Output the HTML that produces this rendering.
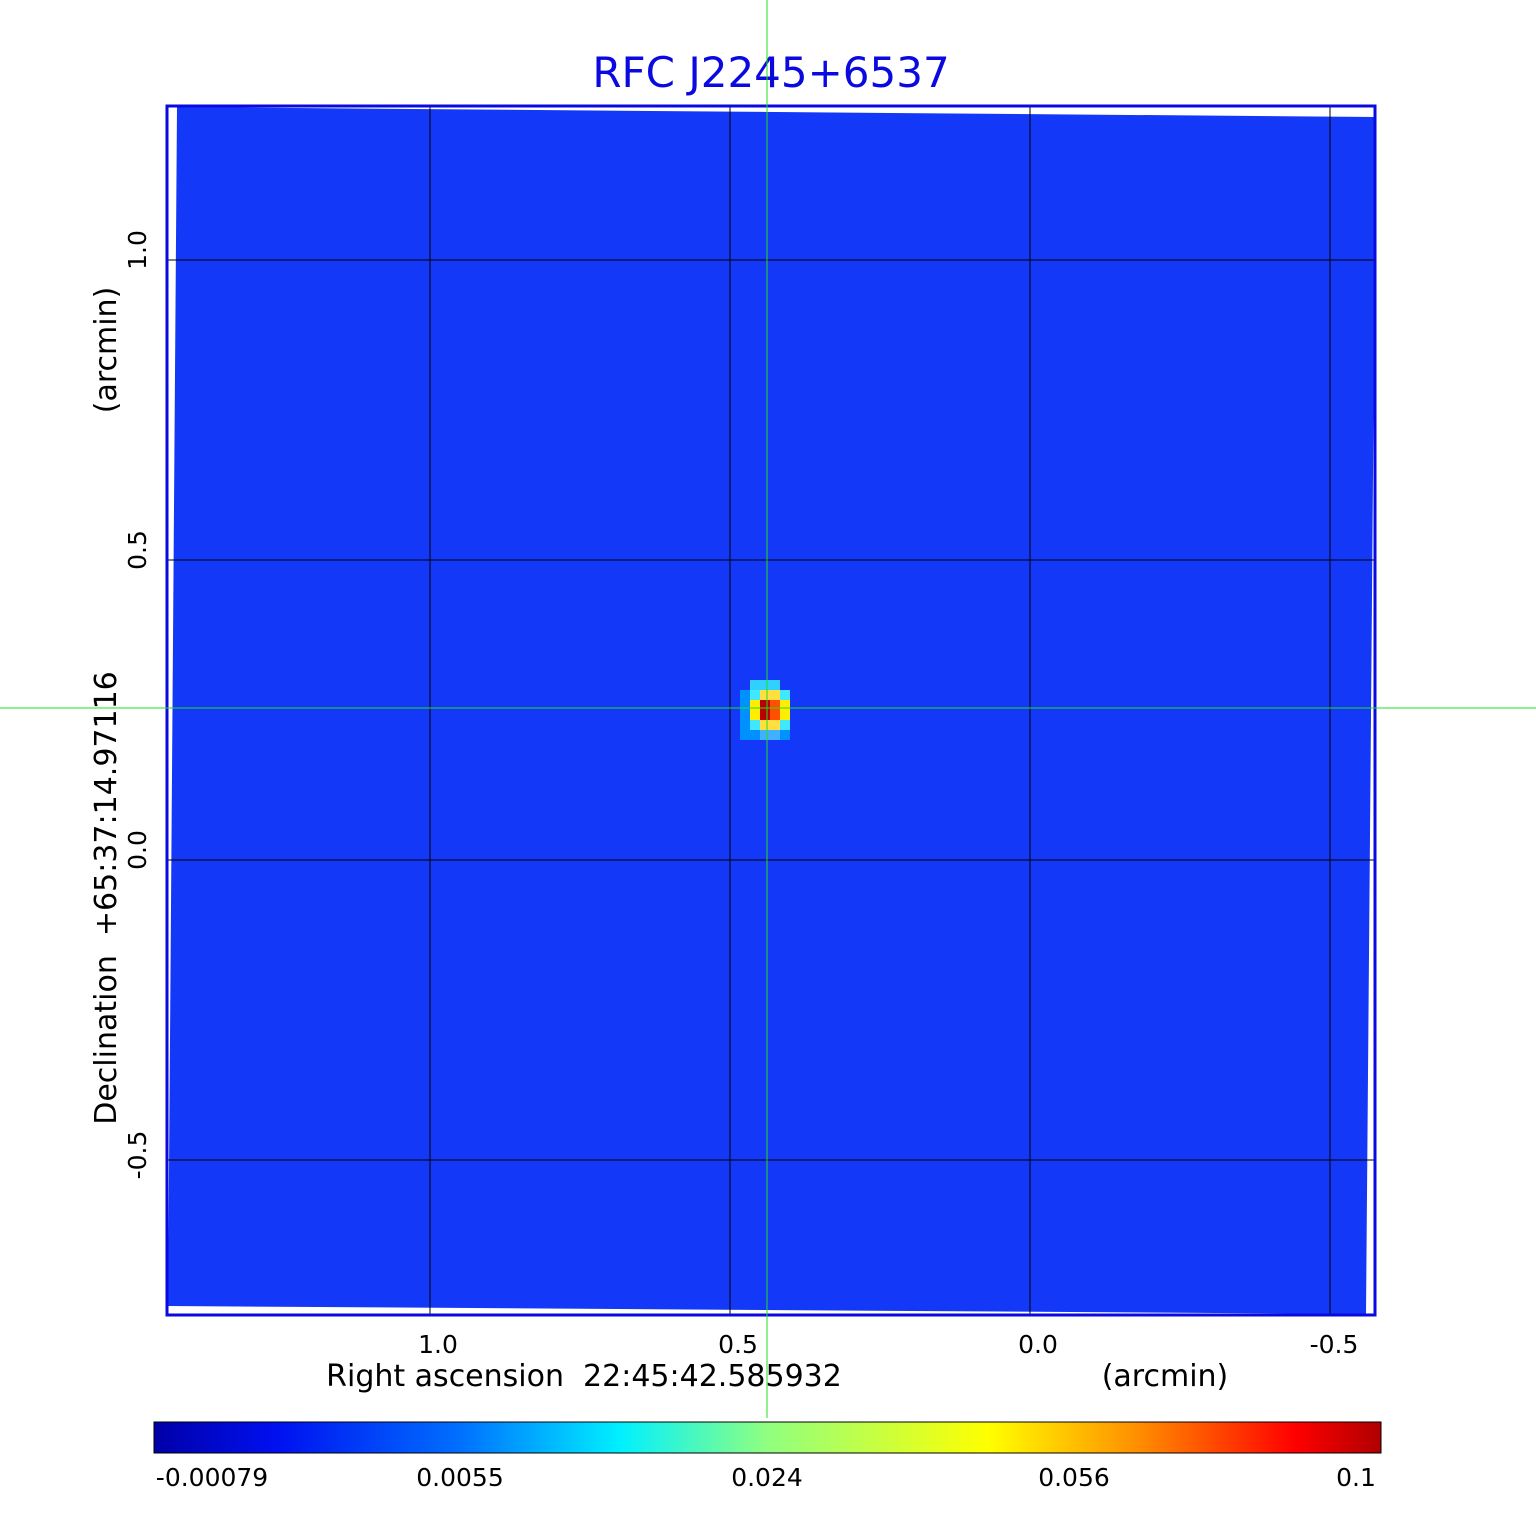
<!DOCTYPE html>
<html><head><style>
body{margin:0;background:#fff;width:1536px;height:1511px;overflow:hidden;font-family:"DejaVu Sans","Liberation Sans",sans-serif}
</style></head><body>
<svg width="1536" height="1511" xmlns="http://www.w3.org/2000/svg" font-family="DejaVu Sans, Liberation Sans, sans-serif">
<defs>
<linearGradient id="cb" x1="0" x2="1">
<stop offset="0" stop-color="#0000a8"/>
<stop offset="0.1" stop-color="#0010f0"/>
<stop offset="0.25" stop-color="#0070ff"/>
<stop offset="0.38" stop-color="#00f0ff"/>
<stop offset="0.5" stop-color="#90ff80"/>
<stop offset="0.68" stop-color="#ffff00"/>
<stop offset="0.8" stop-color="#ff9000"/>
<stop offset="0.93" stop-color="#ff0000"/>
<stop offset="1" stop-color="#b00000"/>
</linearGradient>
</defs>
<text x="771" y="87" font-size="42" fill="#0a0ae0" text-anchor="middle">RFC J2245+6537</text>
<polygon points="177,107 1376,117 1366,1314 168,1306" fill="#1438f8"/>
<g>
<rect x="740" y="690" width="50" height="50" fill="#0090ff"/>
<rect x="750" y="680" width="30" height="10" fill="#30d0ff"/>
<rect x="750" y="690" width="40" height="40" fill="#40e8ff"/>
<rect x="750" y="700" width="40" height="20" fill="#ffee00"/>
<rect x="760" y="690" width="20" height="40" fill="#ffe040"/>
<rect x="760" y="700" width="10" height="20" fill="#b80000"/>
<rect x="770" y="700" width="10" height="20" fill="#ff5000"/>
<rect x="760" y="730" width="20" height="10" fill="#40b0ff"/>
</g>
<g stroke="#000" stroke-width="1">
<line x1="430" y1="107" x2="430" y2="1314"/>
<line x1="730" y1="107" x2="730" y2="1314"/>
<line x1="1030" y1="107" x2="1030" y2="1314"/>
<line x1="1330" y1="107" x2="1330" y2="1314"/>
<line x1="168" y1="260" x2="1376" y2="260"/>
<line x1="168" y1="560" x2="1376" y2="560"/>
<line x1="168" y1="860" x2="1376" y2="860"/>
<line x1="168" y1="1160" x2="1376" y2="1160"/>
</g>
<rect x="167" y="106" width="1208" height="1209" fill="none" stroke="#0a0ae0" stroke-width="3"/>
<line x1="767" y1="0" x2="767" y2="1418" stroke="#20e020" stroke-width="1"/>
<line x1="0" y1="708" x2="1536" y2="708" stroke="#20e020" stroke-width="1"/>
<g font-size="25" fill="#000">
<text x="438" y="1353" text-anchor="middle">1.0</text>
<text x="738" y="1353" text-anchor="middle">0.5</text>
<text x="1038" y="1353" text-anchor="middle">0.0</text>
<text x="1334" y="1353" text-anchor="middle">-0.5</text>
<text x="584" y="1386" font-size="30" text-anchor="middle" xml:space="preserve" style="white-space:pre">Right ascension  22:45:42.585932</text>
<text x="1165" y="1386" font-size="30" text-anchor="middle">(arcmin)</text>
<text transform="translate(146,250) rotate(-90)" text-anchor="middle">1.0</text>
<text transform="translate(146,550) rotate(-90)" text-anchor="middle">0.5</text>
<text transform="translate(146,850) rotate(-90)" text-anchor="middle">0.0</text>
<text transform="translate(146,1155) rotate(-90)" text-anchor="middle">-0.5</text>
<text transform="translate(116,898) rotate(-90)" font-size="30" text-anchor="middle" xml:space="preserve" style="white-space:pre">Declination  +65:37:14.97116</text>
<text transform="translate(116,350) rotate(-90)" font-size="30" text-anchor="middle">(arcmin)</text>
</g>
<rect x="154" y="1422" width="1227" height="31" fill="url(#cb)" stroke="#000" stroke-width="1"/>
<g font-size="25" fill="#000" text-anchor="middle">
<text x="212" y="1486">-0.00079</text>
<text x="460" y="1486">0.0055</text>
<text x="767" y="1486">0.024</text>
<text x="1074" y="1486">0.056</text>
<text x="1356" y="1486">0.1</text>
</g>
</svg>
</body></html>
